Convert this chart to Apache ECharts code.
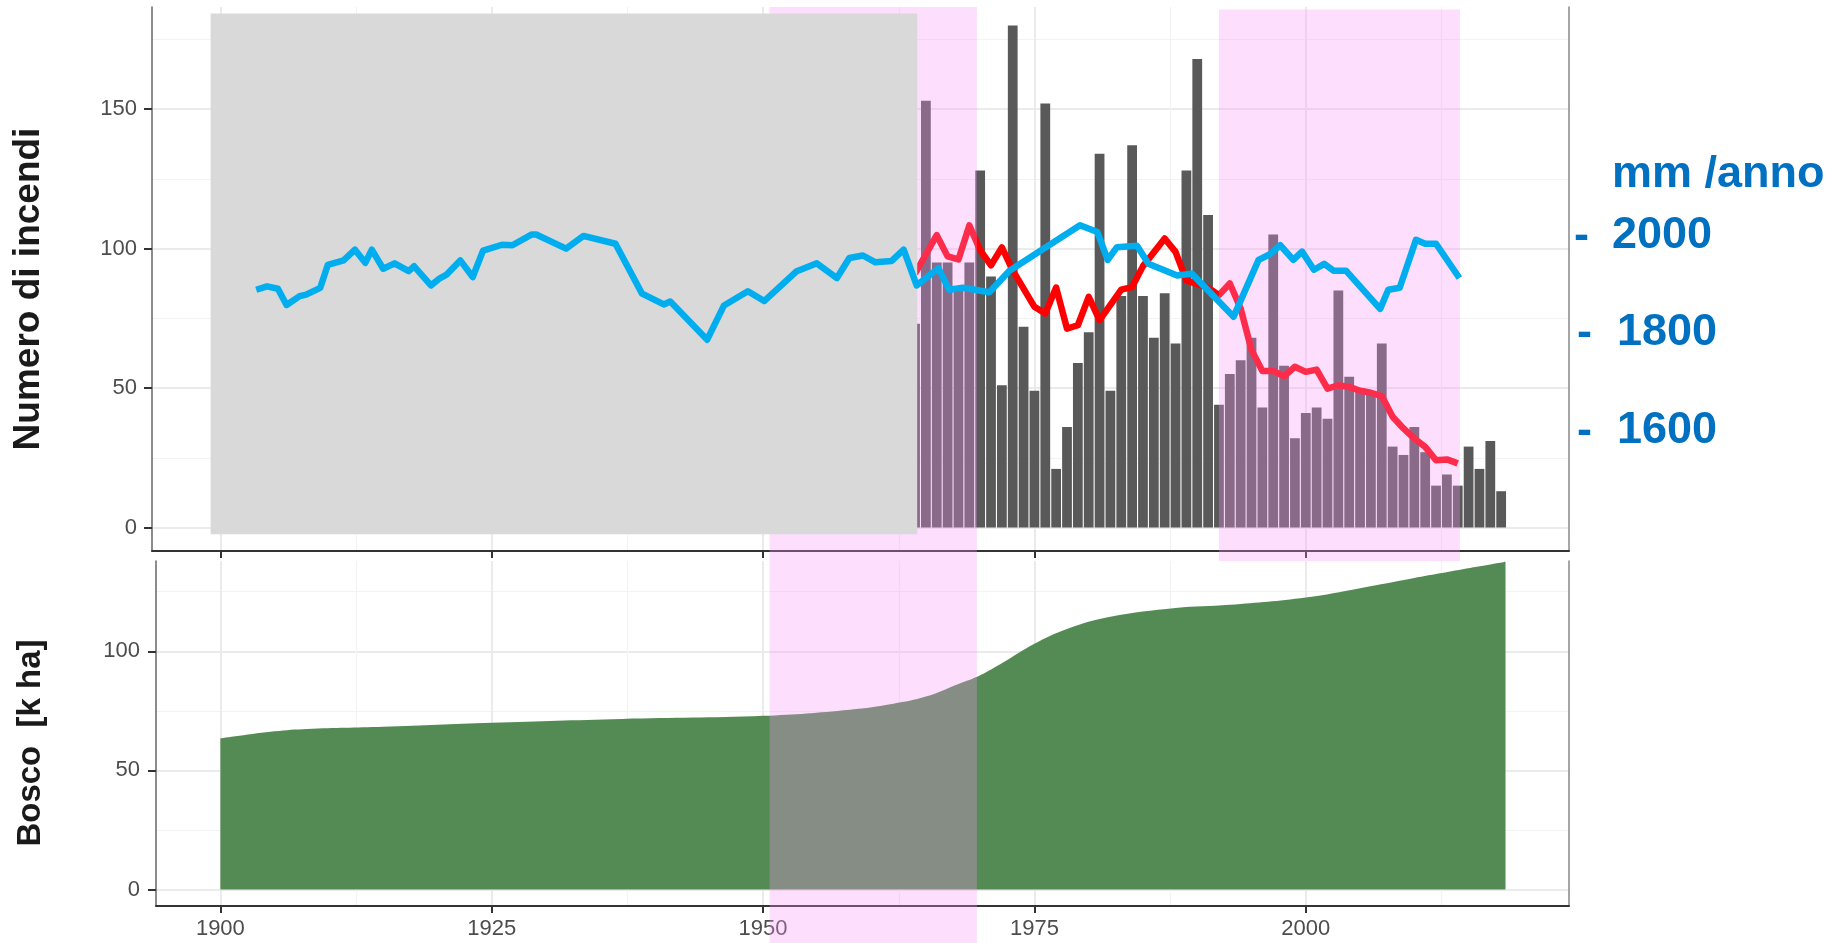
<!DOCTYPE html>
<html>
<head>
<meta charset="utf-8">
<script src="https://cdn.jsdelivr.net/npm/echarts@6/dist/echarts.min.js"></script>
<style>
html,body{margin:0;padding:0;background:#fff;}
#chart{width:1847px;height:943px;}
</style>
</head>
<body>
<div id="chart"></div>
<script>
// ---- data ----
const fireYears = [1964,1965,1966,1967,1968,1969,1970,1971,1972,1973,1974,1975,1976,1977,1978,1979,1980,1981,1982,1983,1984,1985,1986,1987,1988,1989,1990,1991,1992,1993,1994,1995,1996,1997,1998,1999,2000,2001,2002,2003,2004,2005,2006,2007,2008,2009,2010,2011,2012,2013,2014,2015,2016,2017,2018];
const fireCounts = [73,153,95,95,85,95,128,90,51,180,72,49,152,21,36,59,70,134,49,83,137,83,68,84,66,128,168,112,44,55,60,68,43,105,58,32,41,43,39,85,54,50,48,66,29,26,36,27,15,19,15,29,21,31,13];

const trendYears = [1964,1966,1967,1968,1969,1970,1971,1972,1973,1975,1976,1977,1978,1979,1980,1981,1983,1984,1985,1987,1988,1989,1990,1991,1992,1993,1994,1995,1996,1997,1998,1999,2000,2001,2002,2003,2004,2005,2006,2007,2008,2009,2010,2011,2012,2013,2014];
const trendValues = [91,104.8,97.2,96.1,108.3,99.4,94.0,100.4,92.2,79.1,76.7,86.0,71.3,72.5,82.7,74.3,85.3,86.2,93.7,103.6,98.8,88.6,87.2,86.0,83.3,87.5,78.5,63.6,56.1,56.1,54.2,57.6,55.8,56.6,49.8,51.0,50.4,49.0,48.3,47.1,39.7,35.5,31.9,28.9,24.1,24.4,23.0];

const rainYears = [1903.3,1904.3,1905.3,1906.1,1907.3,1907.9,1909.2,1909.9,1911.35,1912.4,1913.35,1913.95,1915.0,1916.05,1917.35,1917.85,1919.4,1920.25,1920.85,1922.1,1923.25,1924.2,1925.95,1926.9,1928.7,1929.1,1931.85,1933.45,1936.4,1938.85,1940.85,1941.45,1944.85,1946.4,1948.6,1950.1,1953.1,1954.95,1956.8,1957.95,1959.2,1960.35,1961.85,1962.95,1964.15,1966.15,1967.15,1968.4,1970.85,1972.7,1979.2,1980.8,1981.75,1982.6,1984.45,1985.5,1988.15,1989.5,1993.35,1995.65,1996.65,1997.65,1998.85,1999.65,2000.75,2001.7,2002.55,2003.7,2006.85,2007.6,2008.65,2010.15,2011.0,2012.0,2014.15];
const rainMm = [1882,1889,1884,1851,1869,1872,1886,1933,1942,1964,1937,1964,1925,1936,1920,1930,1891,1906,1913,1942,1908,1962,1974,1973,1995,1995,1966,1992,1976,1874,1852,1858,1780,1850,1879,1859,1920,1936,1906,1947,1952,1938,1941,1964,1891,1926,1882,1886,1877,1921,2014,2000,1943,1969,1972,1935,1911,1915,1827,1943,1954,1973,1943,1960,1923,1935,1921,1921,1843,1882,1886,1984,1976,1976,1906];

const forestYears = [1900,1905,1908,1915,1925,1937,1950,1958,1962,1965,1968,1970,1972,1975,1978,1982,1988,1993,2000,2005,2010,2018.4];
const forestKha = [63.4,66.4,67.4,68.3,70.0,71.6,72.9,75.5,78.0,81.0,86.3,90.0,95.0,103.2,109.4,114.5,118.2,119.5,122.6,126.5,130.8,137.6];

const xMajorTicks = [1900,1925,1950,1975,2000];
const xMinorTicks = [1912.5,1937.5,1962.5,1987.5,2012.5];
const fireTicks = [0,50,100,150];
const fireMinor = [25,75,125,175];
const forestTicks = [0,50,100];
const forestMinor = [25,75,125];

// highlighted periods [x0, x1, yBottom, yTop] in data units of the fire panel
const pinkBands = [[1950.6,1969.7,-149,186.6],[1992.0,2014.2,-12,185.7]];
const grayBand = [[1899.1,1964.2,-2.4,184.3]];
const rainLabels = ['2000','1800','1600'];

// ---- chart ----
const FONT = '"Liberation Sans", Arial, Helvetica, sans-serif';
const chart = echarts.init(document.getElementById('chart'), null, {renderer:'canvas'});

function rectItem(color){
  return function(params, api){
    const p0 = api.coord([api.value(0), api.value(3)]);
    const p1 = api.coord([api.value(1), api.value(2)]);
    return {type:'rect', shape:{x:p0[0], y:p0[1], width:p1[0]-p0[0], height:p1[1]-p0[1]},
            style:{fill:color}};
  };
}

const majorSplit = {show:true, lineStyle:{color:'#EBEBEB', width:2}};
const minorSplit = {show:true, lineStyle:{color:'#F3F3F3', width:1.2}};
const labelStyle = {fontSize:22, color:'#4D4D4D', fontFamily:FONT};

const option = {
  animation:false,
  backgroundColor:'#ffffff',
  grid:[
    {left:152, right:1847-1569, top:7, height:544},
    {left:156, right:1847-1569, top:561, height:345}
  ],
  xAxis:[
    {gridIndex:0, type:'value', min:1893.7, max:2024.25, position:'bottom',
     axisLine:{show:true, onZero:false, lineStyle:{color:'#333333', width:2}},
     axisTick:{show:true, length:7, customValues:xMajorTicks, lineStyle:{color:'#333333', width:2}},
     axisLabel:{show:false, customValues:xMajorTicks},
     splitLine:majorSplit},
    {gridIndex:0, type:'value', min:1893.7, max:2024.25, position:'bottom',
     axisLine:{show:false}, axisTick:{show:false, customValues:xMinorTicks},
     axisLabel:{show:false, customValues:xMinorTicks}, splitLine:minorSplit},
    {gridIndex:1, type:'value', min:1894.07, max:2024.25, position:'bottom',
     axisLine:{show:true, onZero:false, lineStyle:{color:'#333333', width:2}},
     axisTick:{show:true, length:7, customValues:xMajorTicks, lineStyle:{color:'#333333', width:2}},
     axisLabel:Object.assign({show:true, margin:12, customValues:xMajorTicks, formatter:v=>String(v)}, labelStyle),
     splitLine:majorSplit},
    {gridIndex:1, type:'value', min:1894.07, max:2024.25, position:'bottom',
     axisLine:{show:false}, axisTick:{show:false, customValues:xMinorTicks},
     axisLabel:{show:false, customValues:xMinorTicks}, splitLine:minorSplit}
  ],
  yAxis:[
    {gridIndex:0, type:'value', min:-8.43, max:186.6, position:'left',
     axisLine:{show:true, onZero:false, lineStyle:{color:'#666666', width:1.5}},
     axisTick:{show:true, length:8, customValues:fireTicks, lineStyle:{color:'#333333', width:2}},
     axisLabel:Object.assign({show:true, margin:15, customValues:fireTicks}, labelStyle),
     splitLine:majorSplit},
    {gridIndex:0, type:'value', min:1348.2, max:2459.8, position:'right',
     axisLine:{show:true, onZero:false, lineStyle:{color:'#888888', width:1.5}},
     axisTick:{show:false}, axisLabel:{show:false}, splitLine:{show:false}},
    {gridIndex:0, type:'value', min:-8.43, max:186.6, position:'left',
     axisLine:{show:false}, axisTick:{show:false, customValues:fireMinor},
     axisLabel:{show:false, customValues:fireMinor}, splitLine:minorSplit},
    {gridIndex:1, type:'value', min:-6.9, max:137.9, position:'left',
     axisLine:{show:true, onZero:false, lineStyle:{color:'#666666', width:1.5}},
     axisTick:{show:true, length:8, customValues:forestTicks, lineStyle:{color:'#333333', width:2}},
     axisLabel:Object.assign({show:true, margin:16, customValues:forestTicks}, labelStyle),
     splitLine:majorSplit},
    {gridIndex:1, type:'value', min:-6.9, max:137.9, position:'right',
     axisLine:{show:true, onZero:false, lineStyle:{color:'#888888', width:1.5}},
     axisTick:{show:false}, axisLabel:{show:false}, splitLine:{show:false}},
    {gridIndex:1, type:'value', min:-6.9, max:137.9, position:'left',
     axisLine:{show:false}, axisTick:{show:false, customValues:forestMinor},
     axisLabel:{show:false, customValues:forestMinor}, splitLine:minorSplit}
  ],
  series:[
    {type:'bar', name:'incendi', xAxisIndex:0, yAxisIndex:0, z:2,
     barWidth:'90%', itemStyle:{color:'#595959'},
     data:fireYears.map((y,i)=>[y, fireCounts[i]])},
    {type:'line', name:'tendenza', xAxisIndex:0, yAxisIndex:0, z:3,
     symbol:'none', lineStyle:{color:'#FF0000', width:6.5, cap:'butt', join:'round'},
     data:trendYears.map((y,i)=>[y, trendValues[i]])},
    {type:'custom', name:'periodi', xAxisIndex:0, yAxisIndex:0, z:4, clip:false, silent:true,
     renderItem:rectItem('rgba(247,147,247,0.3)'), data:pinkBands},
    {type:'custom', name:'grigio', xAxisIndex:0, yAxisIndex:0, z:5, clip:false, silent:true,
     renderItem:rectItem('#D9D9D9'), data:grayBand},
    {type:'line', name:'precipitazioni', xAxisIndex:0, yAxisIndex:1, z:6,
     symbol:'none', lineStyle:{color:'#00AEEF', width:6.5, cap:'butt', join:'round'},
     data:rainYears.map((y,i)=>[y, rainMm[i]])},
    {type:'line', name:'bosco', xAxisIndex:2, yAxisIndex:3, z:2,
     symbol:'none', smooth:0.4,
     lineStyle:{width:0}, areaStyle:{color:'#548B54', opacity:1},
     data:forestYears.map((y,i)=>[y, forestKha[i]])}
  ],
  graphic:[
    {type:'text', x:29, y:289, rotation:Math.PI/2, z:10,
     style:{text:'Numero di incendi', font:'bold 37px '+FONT, fill:'#1A1A1A',
            textAlign:'center', textVerticalAlign:'middle', align:'center', verticalAlign:'middle'}},
    {type:'text', x:31, y:743, rotation:Math.PI/2, z:10,
     style:{text:'Bosco  [k ha]', font:'bold 33px '+FONT, fill:'#1A1A1A',
            textAlign:'center', textVerticalAlign:'middle', align:'center', verticalAlign:'middle'}},
    {type:'text', x:1612, y:175, z:10,
     style:{text:'mm /anno', font:'bold 45px '+FONT, fill:'#0070C0',
            textAlign:'left', textVerticalAlign:'middle', align:'left', verticalAlign:'middle'}},
    {type:'text', x:1574, y:237, z:10,
     style:{text:'-', font:'bold 45px '+FONT, fill:'#0070C0', textAlign:'left', textVerticalAlign:'middle', align:'left', verticalAlign:'middle'}},
    {type:'text', x:1612, y:236, z:10,
     style:{text:rainLabels[0], font:'bold 45px '+FONT, fill:'#0070C0', textAlign:'left', textVerticalAlign:'middle', align:'left', verticalAlign:'middle'}},
    {type:'text', x:1577, y:334, z:10,
     style:{text:'-', font:'bold 45px '+FONT, fill:'#0070C0', textAlign:'left', textVerticalAlign:'middle', align:'left', verticalAlign:'middle'}},
    {type:'text', x:1617, y:333, z:10,
     style:{text:rainLabels[1], font:'bold 45px '+FONT, fill:'#0070C0', textAlign:'left', textVerticalAlign:'middle', align:'left', verticalAlign:'middle'}},
    {type:'text', x:1577, y:432, z:10,
     style:{text:'-', font:'bold 45px '+FONT, fill:'#0070C0', textAlign:'left', textVerticalAlign:'middle', align:'left', verticalAlign:'middle'}},
    {type:'text', x:1617, y:431, z:10,
     style:{text:rainLabels[2], font:'bold 45px '+FONT, fill:'#0070C0', textAlign:'left', textVerticalAlign:'middle', align:'left', verticalAlign:'middle'}}
  ]
};
chart.setOption(option);
</script>
</body>
</html>
